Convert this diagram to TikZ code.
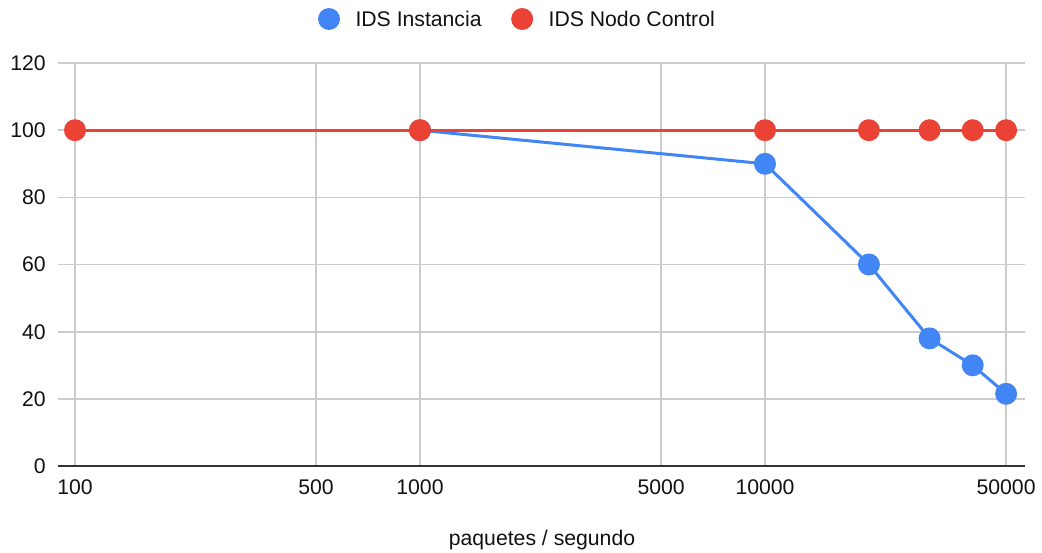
\documentclass[tikz,border=0pt]{standalone}
\usepackage{fontspec}
\setmainfont{Liberation Sans}
\usetikzlibrary{positioning}
\definecolor{gblue}{HTML}{4285F4}
\definecolor{gred}{HTML}{EA4335}
\definecolor{ggrid}{HTML}{CCCCCC}
\definecolor{gaxis}{HTML}{333333}
\definecolor{gtext}{HTML}{111111}
\tikzset{>=latex}
\tikzset{
  gridline/.style={draw=ggrid,line width=1.2pt},
  zeroline/.style={draw=gaxis,line width=1.5pt},
  lab/.style={inner sep=0pt,text=gtext,font=\fontsize{15.9}{18}\selectfont},
  bluedot/.style={circle,draw=none,fill=gblue,inner sep=0pt,minimum size=16.5pt},
  reddot/.style={circle,draw=none,fill=gred,inner sep=0pt,minimum size=16.5pt},
  blueline/.style={draw=gblue,line width=2.25pt,line join=round},
  redline/.style={draw=gred,line width=2.25pt,line join=round}
}

\begin{document}
\begin{tikzpicture}[x=0.75pt,y=-0.75pt]
\useasboundingbox (0,0) rectangle (1042,553);

%%% Grid
\foreach \y in {63,130.2,197.3,264.5,331.7,398.8}
  \draw[gridline] (58,\y) -- (1025,\y);
\foreach \x in {75,316.1,420,661.1,765,1006.1}
  \draw[gridline] (\x,63) -- (\x,466);
\draw[zeroline] (58,466) -- (1025,466);

%%% Axis labels
\foreach \v/\y in {0/466,20/398.8,40/331.7,60/264.5,80/197.3,100/130.2,120/63}
  \node[lab,anchor=east] (y\v) at (46,\y) {\v};
\foreach \v/\x in {100/75,500/316.1,1000/420,5000/661.1,10000/765,50000/1006.1}
  \node[lab] (x\v) at (\x,487) {\v};
\node[lab] (xtitle) at (542,540) {paquetes / segundo};

%%% IDS Instancia
\coordinate (b2) at (420,130.2);
\coordinate (b3) at (765,163.8);
\coordinate (b4) at (868.9,264.5);
\coordinate (b5) at (929.6,338.4);
\coordinate (b6) at (972.7,365.3);
\coordinate (b7) at (1006.1,393.8);
\draw[blueline] (b2) -- (b3) -- (b4) -- (b5) -- (b6) -- (b7);
\foreach \i in {2,...,7}
  \node[bluedot] (bm\i) at (b\i) {};

%%% IDS Nodo Control
\coordinate (r1) at (75,130.2);
\coordinate (r2) at (420,130.2);
\coordinate (r3) at (765,130.2);
\coordinate (r4) at (868.9,130.2);
\coordinate (r5) at (929.6,130.2);
\coordinate (r6) at (972.7,130.2);
\coordinate (r7) at (1006.1,130.2);
\draw[redline] (r1) -- (r2) -- (r3) -- (r4) -- (r5) -- (r6) -- (r7);
\foreach \i in {1,...,7}
  \node[reddot] (rm\i) at (r\i) {};

%%% Legend
\node[bluedot] (lblue) at (329,19) {};
\node[lab,right=11.25pt of lblue] (lbluetext) {IDS Instancia};
\node[reddot,right=21.75pt of lbluetext] (lred) {};
\node[lab,right=11.25pt of lred] (lredtext) {IDS Nodo Control};

\end{tikzpicture}
\end{document}
